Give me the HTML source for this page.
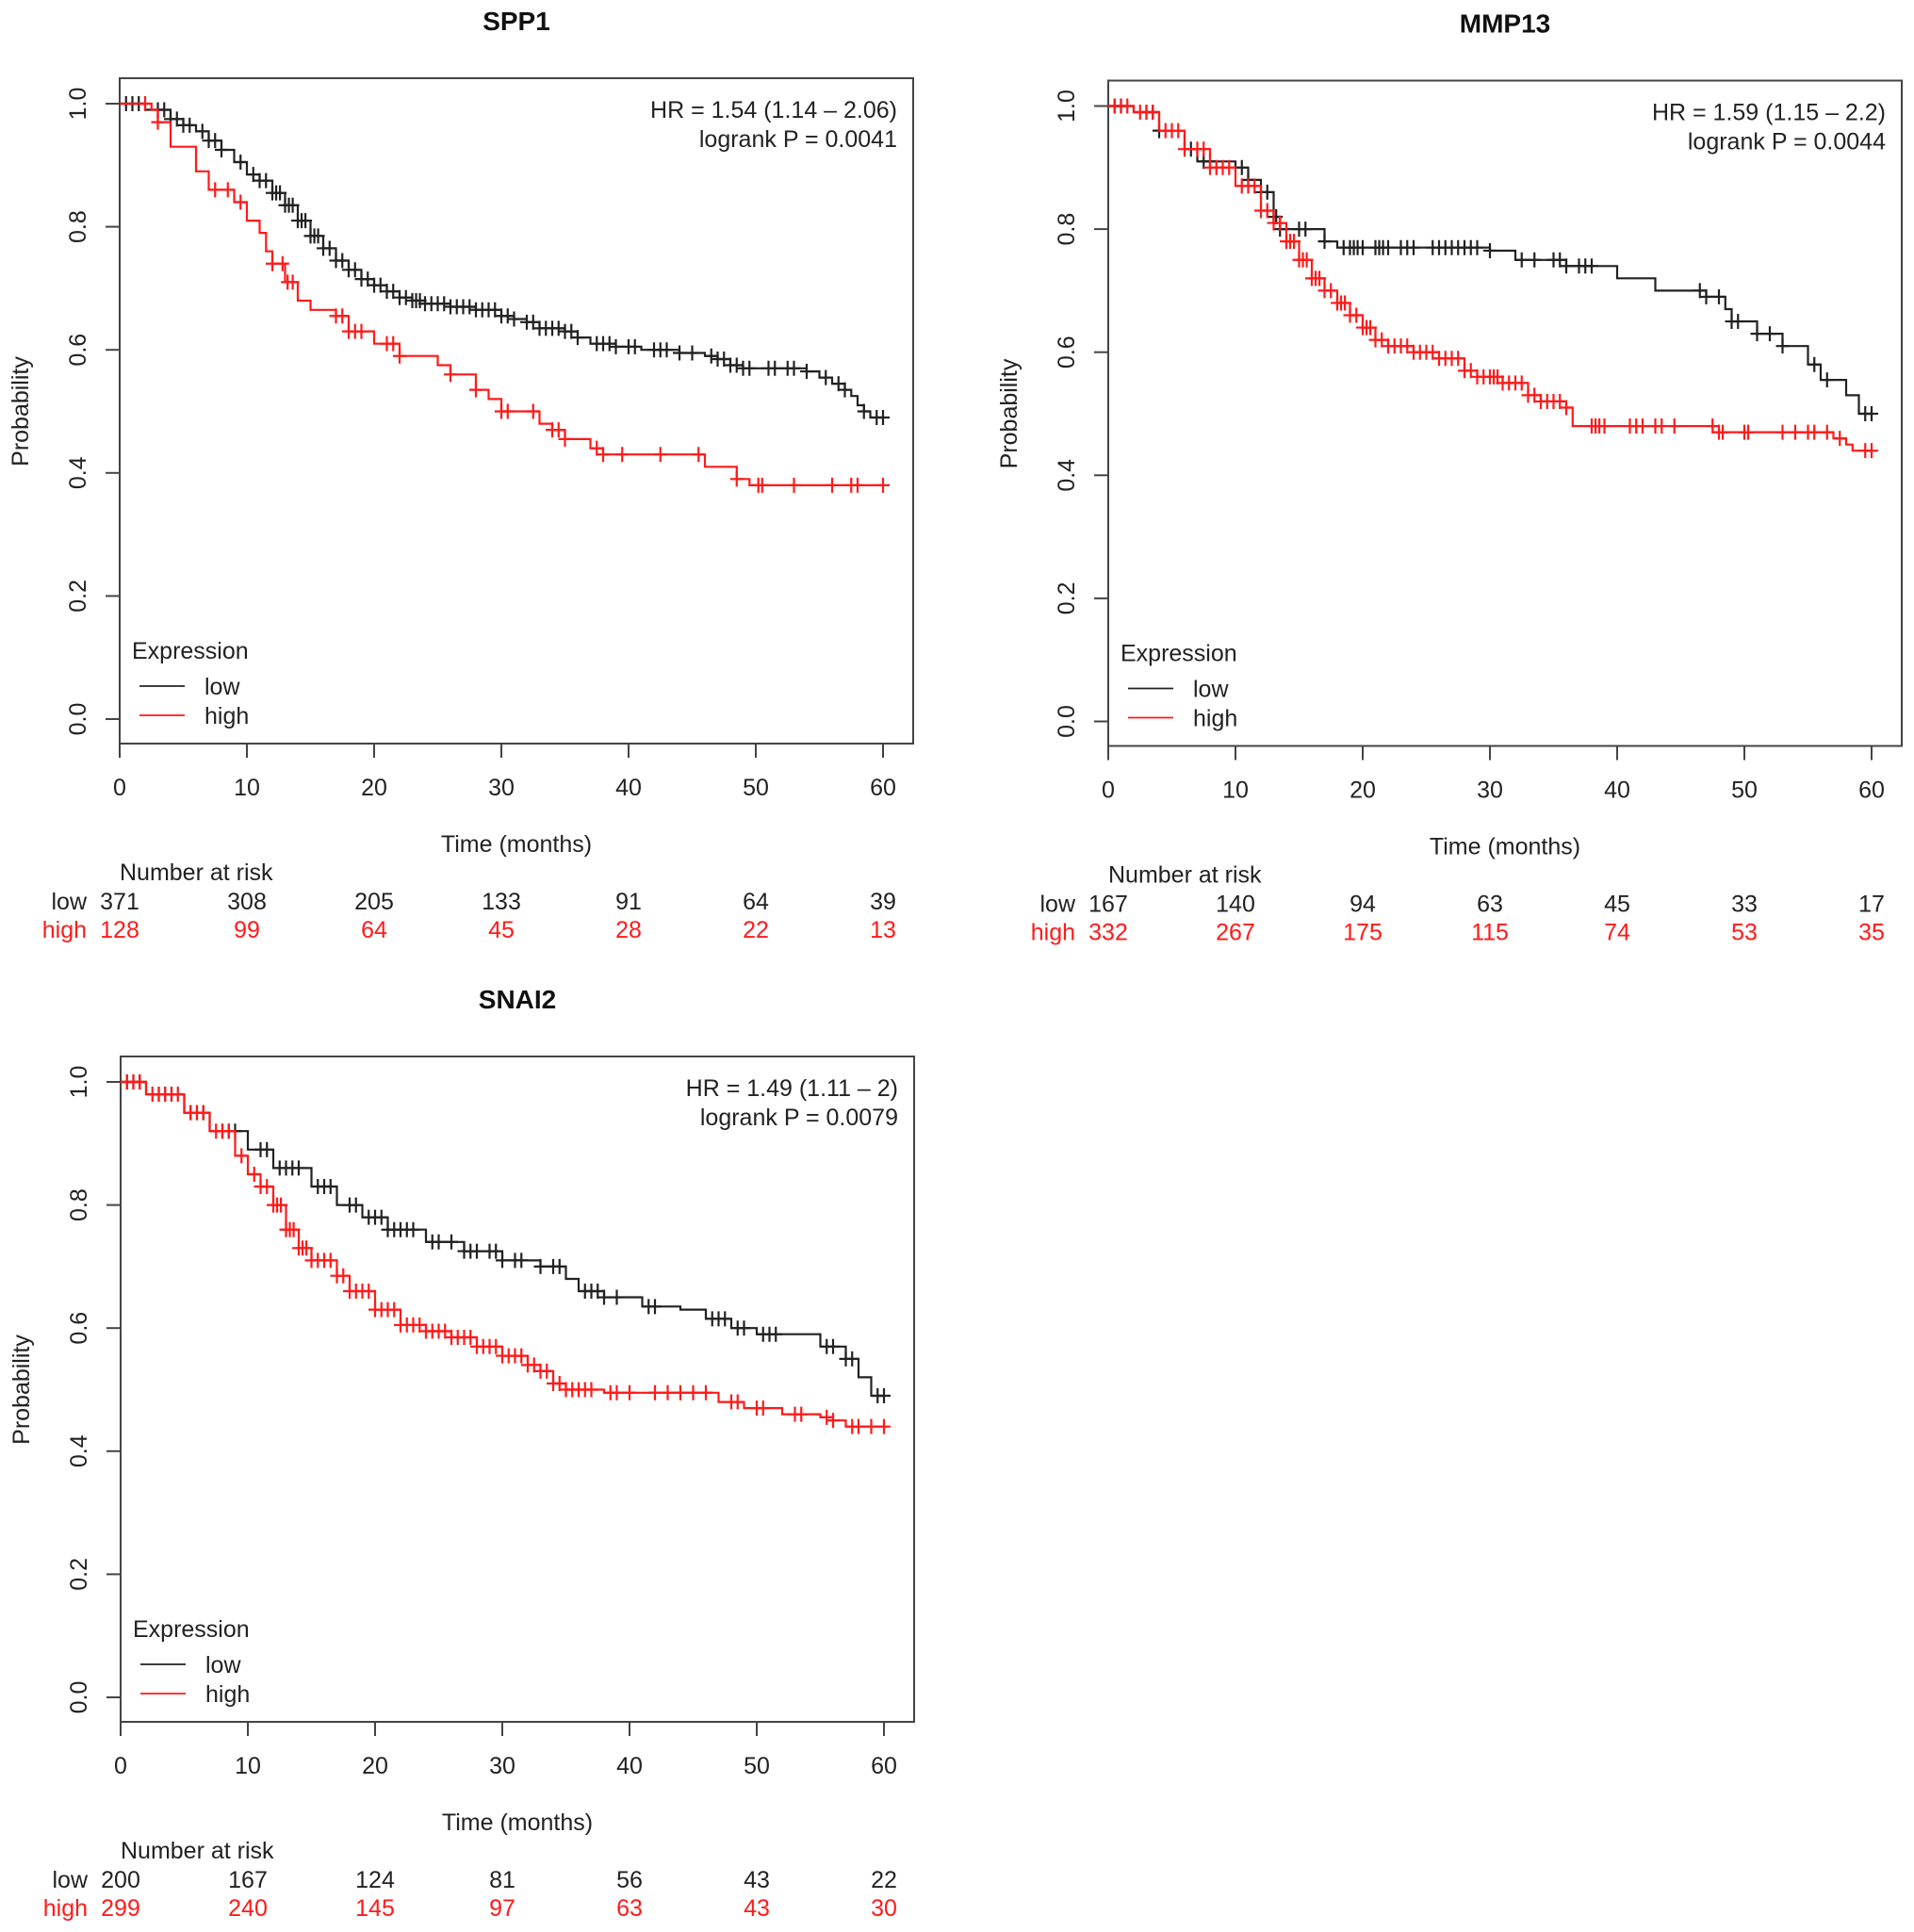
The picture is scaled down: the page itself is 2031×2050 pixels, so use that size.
<!DOCTYPE html>
<html><head><meta charset="utf-8"><style>
html,body{margin:0;padding:0;background:#fff;}
svg{display:block;font-family:"Liberation Sans",Arial,sans-serif;}
</style></head><body>
<svg id="fig" width="2031" height="2050" viewBox="0 0 2031 2050" xmlns="http://www.w3.org/2000/svg"></svg>
<script>
// ---- data ----
const xTicks = [0,10,20,30,40,50,60];
const yTicks = [0,0.2,0.4,0.6,0.8,1.0];
const yTickLabels = ["0.0","0.2","0.4","0.6","0.8","1.0"];

const spp1Title = "SPP1";
const spp1Hr = "HR = 1.54 (1.14 \u2013 2.06)";
const spp1P = "logrank P = 0.0041";
const spp1LowT = [2,4,5,6,7,8,9,10,11,12,13,14,15,16,17,18,19,20,21,22,23,24,26,28,30,31,32,33,35,36,37,39,41,44,46,47,48,49,54,55,56,57,57.5,58,58.5,59];
const spp1LowS = [0.99,0.975,0.965,0.955,0.94,0.925,0.905,0.885,0.875,0.855,0.835,0.81,0.785,0.765,0.745,0.73,0.715,0.705,0.695,0.685,0.68,0.675,0.67,0.665,0.655,0.65,0.645,0.635,0.63,0.62,0.61,0.605,0.60,0.595,0.59,0.585,0.575,0.57,0.565,0.555,0.545,0.535,0.525,0.51,0.50,0.49];
const spp1LowC = [0.5,1,1.5,3,3.5,4,4.5,5,5.5,6.5,7,7.5,8,9.5,10.5,11,11.5,12,12.3,12.6,13,13.3,13.6,14,14.3,14.6,15,15.3,15.6,16,16.5,17,17.5,18,18.5,19,19.5,20,20.5,21,21.5,22,22.5,23,23.3,23.6,24,24.5,25,25.5,26,26.5,27,27.5,28,28.5,29,29.5,30,30.5,31,32,32.5,33,33.5,34,34.5,35,35.5,36,37.5,38,38.5,39,40,40.5,42,42.5,43,44,45,46.5,47,47.5,48,48.5,49,49.5,51,51.5,52.5,53,54,55.5,56.5,57,58.5,59.5,60];
const spp1HighT = [2.5,3,4,6,7,9,10,11,11.5,12,13,14,15,17,18,20,22,25,26,28,29,30,33,34,35,37,38,46,48.5,49.5];
const spp1HighS = [0.99,0.97,0.93,0.89,0.86,0.84,0.81,0.79,0.76,0.74,0.71,0.68,0.665,0.655,0.63,0.61,0.59,0.575,0.56,0.535,0.52,0.50,0.48,0.47,0.455,0.44,0.43,0.41,0.39,0.38];
const spp1HighC = [2,3,7.5,8.5,9.5,12,12.8,13.2,13.6,17,17.5,18,18.5,19,21,21.5,22,26,28,30,30.5,32.5,34,34.5,35,37.5,38,39.5,42.5,45.5,48.5,50.2,50.5,53,56,57.5,58,60];
const spp1RiskLow = [371,308,205,133,91,64,39];
const spp1RiskHigh = [128,99,64,45,28,22,13];

const mmp13Title = "MMP13";
const mmp13Hr = "HR = 1.59 (1.15 \u2013 2.2)";
const mmp13P = "logrank P = 0.0044";
const mmp13LowT = [2,4,6,7,10,11,12,13,13.5,17,18,30,32,36,40,43,47,48.5,49,51,53,55,56,58,59];
const mmp13LowS = [0.99,0.96,0.93,0.91,0.90,0.88,0.86,0.82,0.80,0.78,0.77,0.765,0.75,0.74,0.72,0.70,0.69,0.67,0.65,0.63,0.61,0.58,0.555,0.53,0.50];
const mmp13LowC = [0.5,1,3,3.5,4,6.5,7.5,8,10.5,11,12,12.5,13,13.2,13.5,15,15.5,17,18.5,19,19.3,19.6,20,21,21.3,21.6,22,23,23.5,24,25.5,26,26.5,27,27.5,28,28.5,29,30,32.5,33.5,35,35.5,36,37,37.5,38,46.5,47,48,49,49.5,51,52,53,55.5,56.5,59.5,60];
const mmp13HighT = [2,4,6,8,10,12,13,14,15,16,17,18,19,20,21,22,24,26,28,29,31,33,34,36,36.5,48,57,58,58.5];
const mmp13HighS = [0.99,0.96,0.93,0.90,0.87,0.83,0.81,0.78,0.75,0.72,0.70,0.68,0.66,0.64,0.62,0.61,0.60,0.59,0.57,0.56,0.55,0.53,0.52,0.51,0.48,0.47,0.46,0.45,0.44];
const mmp13HighC = [0.5,1,1.5,2.5,3,3.5,4.5,5,5.5,6,7,7.5,8,8.5,9,9.5,10.5,11,11.5,12,12.5,13,13.5,14,14.3,14.6,15,15.3,15.6,16,16.3,16.6,17,17.5,18,18.3,18.6,19,19.5,20,20.3,20.6,21,21.5,22,22.5,23,23.5,24,24.5,25,25.5,26,26.5,27,27.5,28,28.5,29,29.5,30,30.3,30.6,31,31.5,32,32.5,33,33.5,34,34.5,35,35.5,36,38,38.3,38.6,39,41,41.5,42,43,43.5,44.5,47.5,48,48.3,50,50.3,53,54,55,55.5,56.5,57.5,59.5,60];
const mmp13RiskLow = [167,140,94,63,45,33,17];
const mmp13RiskHigh = [332,267,175,115,74,53,35];

const snai2Title = "SNAI2";
const snai2Hr = "HR = 1.49 (1.11 \u2013 2)";
const snai2P = "logrank P = 0.0079";
const snai2LowT = [2,5,7,10,12,15,17,19,21,24,27,30,33,35,36,38,41,44,46,48,50,55,57,58,59];
const snai2LowS = [0.98,0.95,0.92,0.89,0.86,0.83,0.80,0.78,0.76,0.74,0.725,0.71,0.70,0.68,0.66,0.65,0.635,0.63,0.615,0.60,0.59,0.57,0.55,0.52,0.49];
const snai2LowC = [0.5,1,1.5,3,3.5,4,5.5,6,6.5,8,8.5,9,11,11.5,12.5,13,13.5,14,15.5,16,16.5,18,18.5,19.5,20,20.5,21,21.5,22,22.5,23,24.5,25,26,27,27.5,28,29,29.5,30,31,31.5,33,34,34.5,36.5,37,37.5,38,39,41.5,42,46.5,47,47.5,48.5,49,50.5,51,51.5,55.5,56,57,57.5,59.5,60];
const snai2HighT = [2,5,7,9,10,11,12,13,14,15,17,18,20,22,24,26,28,30,32,33,34,35,38,47,49,52,55,56,57];
const snai2HighS = [0.98,0.95,0.92,0.88,0.85,0.83,0.80,0.76,0.73,0.71,0.685,0.66,0.63,0.605,0.595,0.585,0.57,0.555,0.54,0.53,0.51,0.50,0.495,0.48,0.47,0.46,0.455,0.45,0.44];
const snai2HighC = [0.5,1,1.5,2.5,3,3.5,4,4.5,5.5,6,6.5,7.5,8,8.5,9.5,10.5,11,11.5,12,12.3,12.6,13,13.3,13.6,14,14.3,14.6,15,15.5,16,16.5,17,17.5,18,18.5,19,19.5,20,20.5,21,21.5,22,22.5,23,23.5,24,24.5,25,25.5,26,26.5,27,27.5,28,28.5,29,29.5,30,30.5,31,31.5,32,32.5,33,33.5,34,34.5,35,35.5,36,36.5,37,38.5,39,40,42,43,44,45,46,48,48.5,50,50.5,53,53.5,55.5,56,57.5,58,59,60];
const snai2RiskLow = [200,167,124,81,56,43,22];
const snai2RiskHigh = [299,240,145,97,63,43,30];

// ---- drawing ----
const NS = "http://www.w3.org/2000/svg";
const svg = document.getElementById('fig');
const XS = 13.5, YS = 653;
const BLACK = "#222", RED = "#ff1a1a";
function mk(tag, attrs, parent, text){
  const e = document.createElementNS(NS, tag);
  for (const k in attrs) e.setAttribute(k, attrs[k]);
  if (text !== undefined) e.textContent = text;
  parent.appendChild(e);
  return e;
}
function survAt(T, S, t){ let s = 1; for (let i=0;i<T.length;i++){ if (T[i] <= t) s = S[i]; } return s; }

function panel(key, ox, oy, title, hr, p, lowT, lowS, lowC, highT, highS, highC, riskLow, riskHigh){
  const xf = t => ox + t*XS;
  const yf = v => oy + (1 - v)*YS;
  const y0 = yf(0);
  const g = mk('g', {}, svg);
  
  
  const t = mk('text', {x: ox+421, y: oy-78, 'text-anchor':'middle', 'font-size':28, 'font-weight':'bold', fill:'#111'}, g, title);
   
  const box = mk('rect', {x: ox, y: oy-27, width: 842, height: YS+53, fill:'none', stroke:'#444', 'stroke-width':2}, g);
   
  const xa = mk('g', {}, g);
   
  mk('line', {x1: xf(xTicks[0]), x2: xf(xTicks[xTicks.length-1]), y1: y0+26, y2: y0+26, stroke:'#444','stroke-width':2}, xa);
  xTicks.forEach(v => {
    mk('line', {x1: xf(v), x2: xf(v), y1: y0+26, y2: y0+41, stroke:'#444','stroke-width':2}, xa);
    const tl = mk('text', {x: xf(v), y: y0+81, 'text-anchor':'middle','font-size':25, fill:'#222'}, xa, String(v));
     
  });
  const xt = mk('text', {x: ox+421, y: y0+141, 'text-anchor':'middle','font-size':25, fill:'#222'}, g, 'Time (months)');
   
  const ya = mk('g', {}, g);
   
  mk('line', {x1: ox, x2: ox, y1: yf(0), y2: yf(1), stroke:'#444','stroke-width':2}, ya);
  yTicks.forEach((v,i) => {
    mk('line', {x1: ox-15, x2: ox, y1: yf(v), y2: yf(v), stroke:'#444','stroke-width':2}, ya);
    const tl = mk('text', {x: 0, y: 0, 'text-anchor':'middle','font-size':25, fill:'#222', transform:`translate(${ox-36},${yf(v)}) rotate(-90)`}, ya, yTickLabels[i]);
     
  });
  const yt = mk('text', {x:0,y:0,'text-anchor':'middle','font-size':25, fill:'#222', transform:`translate(${ox-97},${yf(0.5)}) rotate(-90)`}, g, 'Probability');
   
  function curve(T, S, C, color, name){
    let d = `M${xf(0)},${yf(1)}`;
    for (let i=0;i<T.length;i++){ d += ` H${xf(T[i]).toFixed(1)} V${yf(S[i]).toFixed(1)}`; }
    d += ` H${xf(60)}`;
    const path = mk('path', {d, fill:'none', stroke: color, 'stroke-width':2.2}, g);
    
    
    const cg = mk('g', {stroke: color, 'stroke-width':2.2}, g);
    
    
    C.forEach(c => {
      const cx = xf(c), cy = yf(survAt(T, S, c));
      mk('path', {d:`M${cx-7},${cy} H${cx+7} M${cx},${cy-8} V${cy+8}`}, cg);
    });
  }
  curve(lowT, lowS, lowC, BLACK, 'low');
  curve(highT, highS, highC, RED, 'high');
  const hr1 = mk('text', {x: ox+825, y: oy+15, 'text-anchor':'end','font-size':25, fill:'#222'}, g, hr);
   
  const hr2 = mk('text', {x: ox+825, y: oy+46, 'text-anchor':'end','font-size':25, fill:'#222'}, g, p);
   
  const lg = mk('g', {}, g);
   
  mk('text', {x: ox+13, y: y0-64, 'font-size':25, fill:'#222'}, lg, 'Expression');
  mk('line', {x1: ox+21, x2: ox+69, y1: y0-35, y2: y0-35, stroke: BLACK, 'stroke-width':1.8}, lg);
  mk('line', {x1: ox+21, x2: ox+69, y1: y0-4, y2: y0-4, stroke: RED, 'stroke-width':1.8}, lg);
  const l1 = mk('text', {x: ox+90, y: y0-26, 'font-size':25, fill:'#222'}, lg, 'low');
   
  const l2 = mk('text', {x: ox+90, y: y0+5, 'font-size':25, fill:'#222'}, lg, 'high');
   
  const rg = mk('g', {}, g);
   
  mk('text', {x: ox, y: y0+171, 'font-size':25, fill:'#222'}, rg, 'Number at risk');
  mk('text', {x: ox-35, y: y0+202, 'text-anchor':'end','font-size':25, fill:'#222'}, rg, 'low');
  mk('text', {x: ox-35, y: y0+232, 'text-anchor':'end','font-size':25, fill:RED}, rg, 'high');
  xTicks.forEach((v,i) => {
    mk('text', {x: xf(v), y: y0+202, 'text-anchor':'middle','font-size':25, fill:'#222'}, rg, String(riskLow[i]));
    mk('text', {x: xf(v), y: y0+232, 'text-anchor':'middle','font-size':25, fill:RED}, rg, String(riskHigh[i]));
  });
}
panel('spp1', 127, 110, spp1Title, spp1Hr, spp1P, spp1LowT, spp1LowS, spp1LowC, spp1HighT, spp1HighS, spp1HighC, spp1RiskLow, spp1RiskHigh);
panel('mmp13', 1176, 112.5, mmp13Title, mmp13Hr, mmp13P, mmp13LowT, mmp13LowS, mmp13LowC, mmp13HighT, mmp13HighS, mmp13HighC, mmp13RiskLow, mmp13RiskHigh);
panel('snai2', 128, 1148, snai2Title, snai2Hr, snai2P, snai2LowT, snai2LowS, snai2LowC, snai2HighT, snai2HighS, snai2HighC, snai2RiskLow, snai2RiskHigh);
</script>
</body></html>
